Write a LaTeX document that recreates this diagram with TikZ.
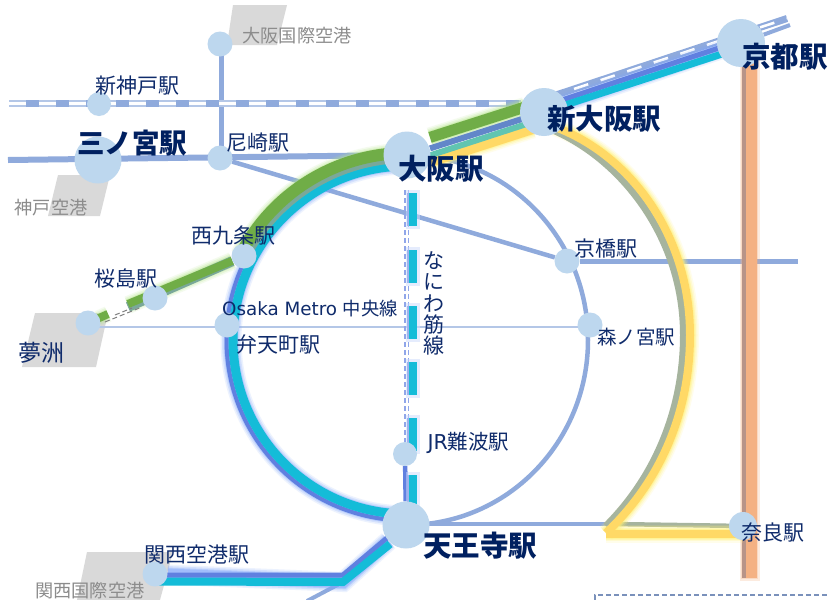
\documentclass[tikz,border=0pt]{standalone}
\usepackage{fontspec}
\setmainfont{Noto Sans CJK JP}
\newfontfamily\latinf{DejaVu Sans}
\pgfdeclarelayer{bg}
\pgfsetlayers{bg,main}
\definecolor{navy}{HTML}{0F2B6B}
\definecolor{navyb}{HTML}{002060}
\definecolor{jr}{HTML}{8FAADC}
\definecolor{jrlight}{HTML}{B4C7E7}
\definecolor{stn}{HTML}{BDD7EE}
\definecolor{cy}{HTML}{14BCD8}
\definecolor{bl}{HTML}{6080E0}
\definecolor{blg}{HTML}{7FA5FA}
\definecolor{gr}{HTML}{70AD47}
\definecolor{grg}{HTML}{B5E58A}
\definecolor{gb}{HTML}{7AA89A}
\definecolor{ye}{HTML}{FFD966}
\definecolor{yg}{HTML}{FFF176}
\definecolor{olive}{HTML}{A6B49E}
\definecolor{or}{HTML}{F4B183}
\definecolor{orb}{HTML}{B89488}
\definecolor{gy}{HTML}{D9D9D9}
\tikzset{
  st/.style={circle,fill=stn,inner sep=0pt,minimum size=25pt},
  stbig/.style={circle,fill=stn,inner sep=0pt,minimum size=47pt},
  lab/.style={inner sep=0pt,text=navy,font=\fontsize{21}{21}\selectfont},
  labbig/.style={inner sep=0pt,text=navyb,font=\fontsize{28.5}{28.5}\selectfont\bfseries},
  labgy/.style={inner sep=0pt,text=black!45,font=\fontsize{18.2}{18.2}\selectfont},
  apt/.style={fill=gy,draw=none},
  lp/.style={shift={(407,340)}},
}
\newcommand{\glowed}[3]{%
  \draw[#1,line width=#2+10pt,opacity=.14] #3;
  \draw[#1,line width=#2+7pt,opacity=.22] #3;
  \draw[#1,line width=#2+4pt,opacity=.32] #3;
  \draw[#1,line width=#2+2pt,opacity=.4] #3;
}
\begin{document}
\begin{tikzpicture}[x=1pt,y=-1pt]
\useasboundingbox (0,0) rectangle (828,600);
% stations
\node[st,minimum size=25pt] (osakaapt) at (220,44) {};
\node[st,minimum size=24pt] (shinkobe) at (99,104) {};
\node[stbig] (sannomiya) at (98,160) {};
\node[st] (amagasaki) at (220,158) {};
\node[stbig] (osaka) at (407,155) {};
\node[stbig,minimum size=48pt] (shinosaka) at (544,112) {};
\node[stbig,minimum size=48pt] (kyoto) at (741,43) {};
\node[st] (kyobashi) at (567,261) {};
\node[st] (morinomiya) at (590,325) {};
\node[st] (nishikujo) at (244,256) {};
\node[st] (sakurajima) at (155,298) {};
\node[st] (yumeshima) at (88,323) {};
\node[st] (bentencho) at (227,325) {};
\node[st,minimum size=24pt] (namba) at (405,454) {};
\node[stbig] (tennoji) at (406,525) {};
\node[st] (kanku) at (155,574) {};
\node[st,minimum size=28pt] (nara) at (743,526) {};
% free ends
\coordinate (w1) at (9,103);
\coordinate (w2) at (8,160);
\coordinate (e1) at (798,261);
\coordinate (k1) at (343,582);
\coordinate (k2) at (343,575);
\coordinate (k3) at (307,601);
\coordinate (ne1) at (787,18.5);
\coordinate (ne2) at (790,25);
\begin{pgfonlayer}{bg}
\fill[white] (0,0) rectangle (828,600);
% airports
\fill[apt] (233,5)--(287,5)--(277,45)--(227,45)--cycle;
\fill[apt] (58,175)--(110,175)--(100,216)--(48,216)--cycle;
\fill[apt] (35,313)--(108,313)--(96,367)--(22,367)--cycle;
\fill[apt] (87,552)--(173,552)--(160,600)--(77,600)--cycle;
% plain JR lines
\draw[jr,line width=5pt] (221.5,44) -- (221.5,158);
\draw[jr,line width=6pt] (w2) -- (osaka.center);
\draw[jr,line width=4.5pt] (amagasaki) -- (kyobashi);
\draw[jr,line width=5pt] (kyobashi) -- (e1);
\draw[jrlight,line width=1.6pt] (88,327) -- (590,327);
% shinkansen
\draw[jrlight,line width=7pt] (w1) -- (521,103);
\draw[jr,line width=7pt,dash pattern=on 13pt off 17pt] (w1) ++(17,0) -- (521,103);
\draw[white,line width=3pt,dash pattern=on 17pt off 13pt] (w1) ++(0,0) -- (521,103);
\draw[jr,line width=7pt] (556,95) -- (ne1);
\draw[white,line width=2.6pt,dash pattern=on 15pt off 13pt] (574,89) -- (ne1);
\draw[jr,line width=4pt] (kyoto) -- (ne2);
% right loop
\draw[jr,line width=4.5pt] (588,340) arc[start angle=0,end angle=-90,x radius=181,y radius=185];
\draw[jr,line width=4.5pt] (588,340) arc[start angle=0,end angle=90,x radius=181,y radius=185];
\draw[jr,line width=4.5pt] (tennoji.center) ++(0,-1) -- (612,524);
\draw[olive,line width=4.5pt] (612,524) -- (nara);
% Naniwa
\draw[bl!70!white,line width=1.2pt,dash pattern=on 5pt off 3pt] (405,190) -- (405,455);
\draw[bl!70!white,line width=1.2pt,dash pattern=on 5pt off 3pt] (408.5,190) -- (408.5,455);
\draw[bl,line width=4.5pt] (namba) -- (tennoji);
\foreach \yy in {193,250,306,362,418,475}{
  \fill[blg!40!white,opacity=.5] (406,\yy-3) rectangle (420,\yy+36);
  \fill[bl!60!white] (406.5,\yy) rectangle (409,\yy+33);
  \fill[cy] (408.5,\yy) rectangle (416.5,\yy+33);
}
% orange
\draw[or,line width=20pt,opacity=.25] (749.5,60) -- (749.5,581);
\draw[or,line width=17pt,opacity=.3] (749.5,60) -- (749.5,579);
\draw[orb,line width=5pt] (744,60) -- (744,578);
\draw[or,line width=11pt] (751.5,60) -- (751.5,578);
% yellow
\def\yel{(555,127) .. controls (630,155) and (690,235) .. (690,335) .. controls (690,410) and (662,480) .. (606,533)}
\glowed{yg}{8pt}{\yel}
\glowed{yg}{8pt}{(606,533.5)--(743,533.5)}
\draw[olive,line width=7pt] (553,130) .. controls (622,160) and (683.5,238) .. (683.5,335) .. controls (683.5,408) and (656,476) .. (606,526);
\draw[ye,line width=8pt] \yel;
\draw[ye,line width=8pt] (606,533.5) -- (743,533.5);
% band Shin-Osaka to Kyoto: blue and cyan
\glowed{blg}{9pt}{(556,106) -- (kyoto.center)}
\draw[bl,line width=5pt] (556,102) -- (722,47);
\draw[cy,line width=7pt] (556,108) -- (725,53);
% west loop: glow, blue, cyan
\glowed{blg}{11pt}{([lp]-90:176) arc[start angle=-90,end angle=-270,radius=176]}
\draw[bl,line width=4pt] ([lp]-90:180.5) arc[start angle=-90,end angle=-270,radius=180.5];
\draw[cy,line width=9pt] ([lp]-90:174) arc[start angle=-90,end angle=-270,radius=174];
% band Osaka to Shin-Osaka
\glowed{grg}{10pt}{(430,137.4)--(525,107)}
\glowed{yg}{8pt}{(430,162.4)--(533,129.4)}
\draw[ye,line width=9pt] (430,162.4) -- (533,129.4);
\draw[cy!60!gr!80!white,line width=6pt] (430,155.4) -- (525,124.5);
\draw[bl!85!gr,line width=6pt] (430,148.4) -- (525,118);
\draw[gr,line width=11pt] (430,137.4) -- (525,107);
% green arc and spur
\glowed{grg}{10pt}{([lp]-153:187) arc[start angle=-153,end angle=-90,radius=187]}
\draw[gb,line width=5pt] ([lp]-153:179.5) arc[start angle=-153,end angle=-90,radius=179.5];
\draw[gr,line width=12pt] ([lp]-153:187) arc[start angle=-153,end angle=-90,radius=187];
\glowed{grg}{8pt}{(128,305) -- (nishikujo)}
\draw[gb,line width=10pt] (128,307) -- (nishikujo);
\draw[gr,line width=8pt] (128,304) -- (nishikujo);
\glowed{grg}{6pt}{(98,318.5)--(108,314)}
\draw[gr,line width=8pt] (98,318.5) -- (108,314);
\draw[black!50,line width=1pt,dash pattern=on 5pt off 3pt] (115,315) -- (132,308);
\draw[black!50,line width=1pt,dash pattern=on 5pt off 3pt] (105,322) -- (142,307);
% Kanku line
\draw[jr,line width=4pt] (k1) -- (k3);
\glowed{blg}{10pt}{(kanku) -- (k1) -- (tennoji)}
\draw[bl,line width=5pt] (kanku) ++(0,1) -- (k2) -- (387,538);
\draw[cy,line width=8pt] (kanku) ++(0,7.5) -- (k1) -- (390,544);
% dashed box
\draw[jr!85!black,line width=1.2pt,dash pattern=on 5pt off 3pt] (595,600) -- (595,595) -- (828,595);
\end{pgfonlayer}
% labels
\node[lab] (t1) at (137,86) {新神戸駅};
\node[lab] (t2) at (258,143) {尼崎駅};
\node[labbig,font=\fontsize{27.5}{27.5}\selectfont\bfseries] (t3) at (132,143) {三ノ宮駅};
\node[labgy] (t4) at (51,208) {神戸空港};
\node[labgy] (t5) at (297,36) {大阪国際空港};
\node[lab] (t6) at (233,236) {西九条駅};
\node[lab] (t7) at (126,279) {桜島駅};
\node[lab,font=\fontsize{23}{23}\selectfont] (t8) at (41,353) {夢洲};
\node[lab] (t9) at (278,345) {弁天町駅};
\node[lab,font=\fontsize{18.3}{18.3}\selectfont] (t10) at (310,309) {{\latinf Osaka Metro }中央線};
\node[labbig] (t11) at (441,169) {大阪駅};
\node[labbig] (t12) at (604,119) {新大阪駅};
\node[labbig] (t13) at (785,57) {京都駅};
\node[lab] (t14) at (606,249) {京橋駅};
\node[lab,font=\fontsize{19.5}{19.5}\selectfont] (t15) at (636,337) {森ノ宮駅};
\node[lab,font=\fontsize{20.5}{20.5}\selectfont] (t16) at (468.5,443) {{\latinf JR}難波駅};
\node[labbig] (t17) at (480,546) {天王寺駅};
\node[lab] (t18) at (773,533) {奈良駅};
\node[lab] (t19) at (197,555) {関西空港駅};
\node[labgy] (t20) at (90,591) {関西国際空港};
\node[lab,align=center,font=\fontsize{21}{21.4}\selectfont] (t21) at (434,303.5) {な\\に\\わ\\筋\\線};
\end{tikzpicture}
\end{document}
